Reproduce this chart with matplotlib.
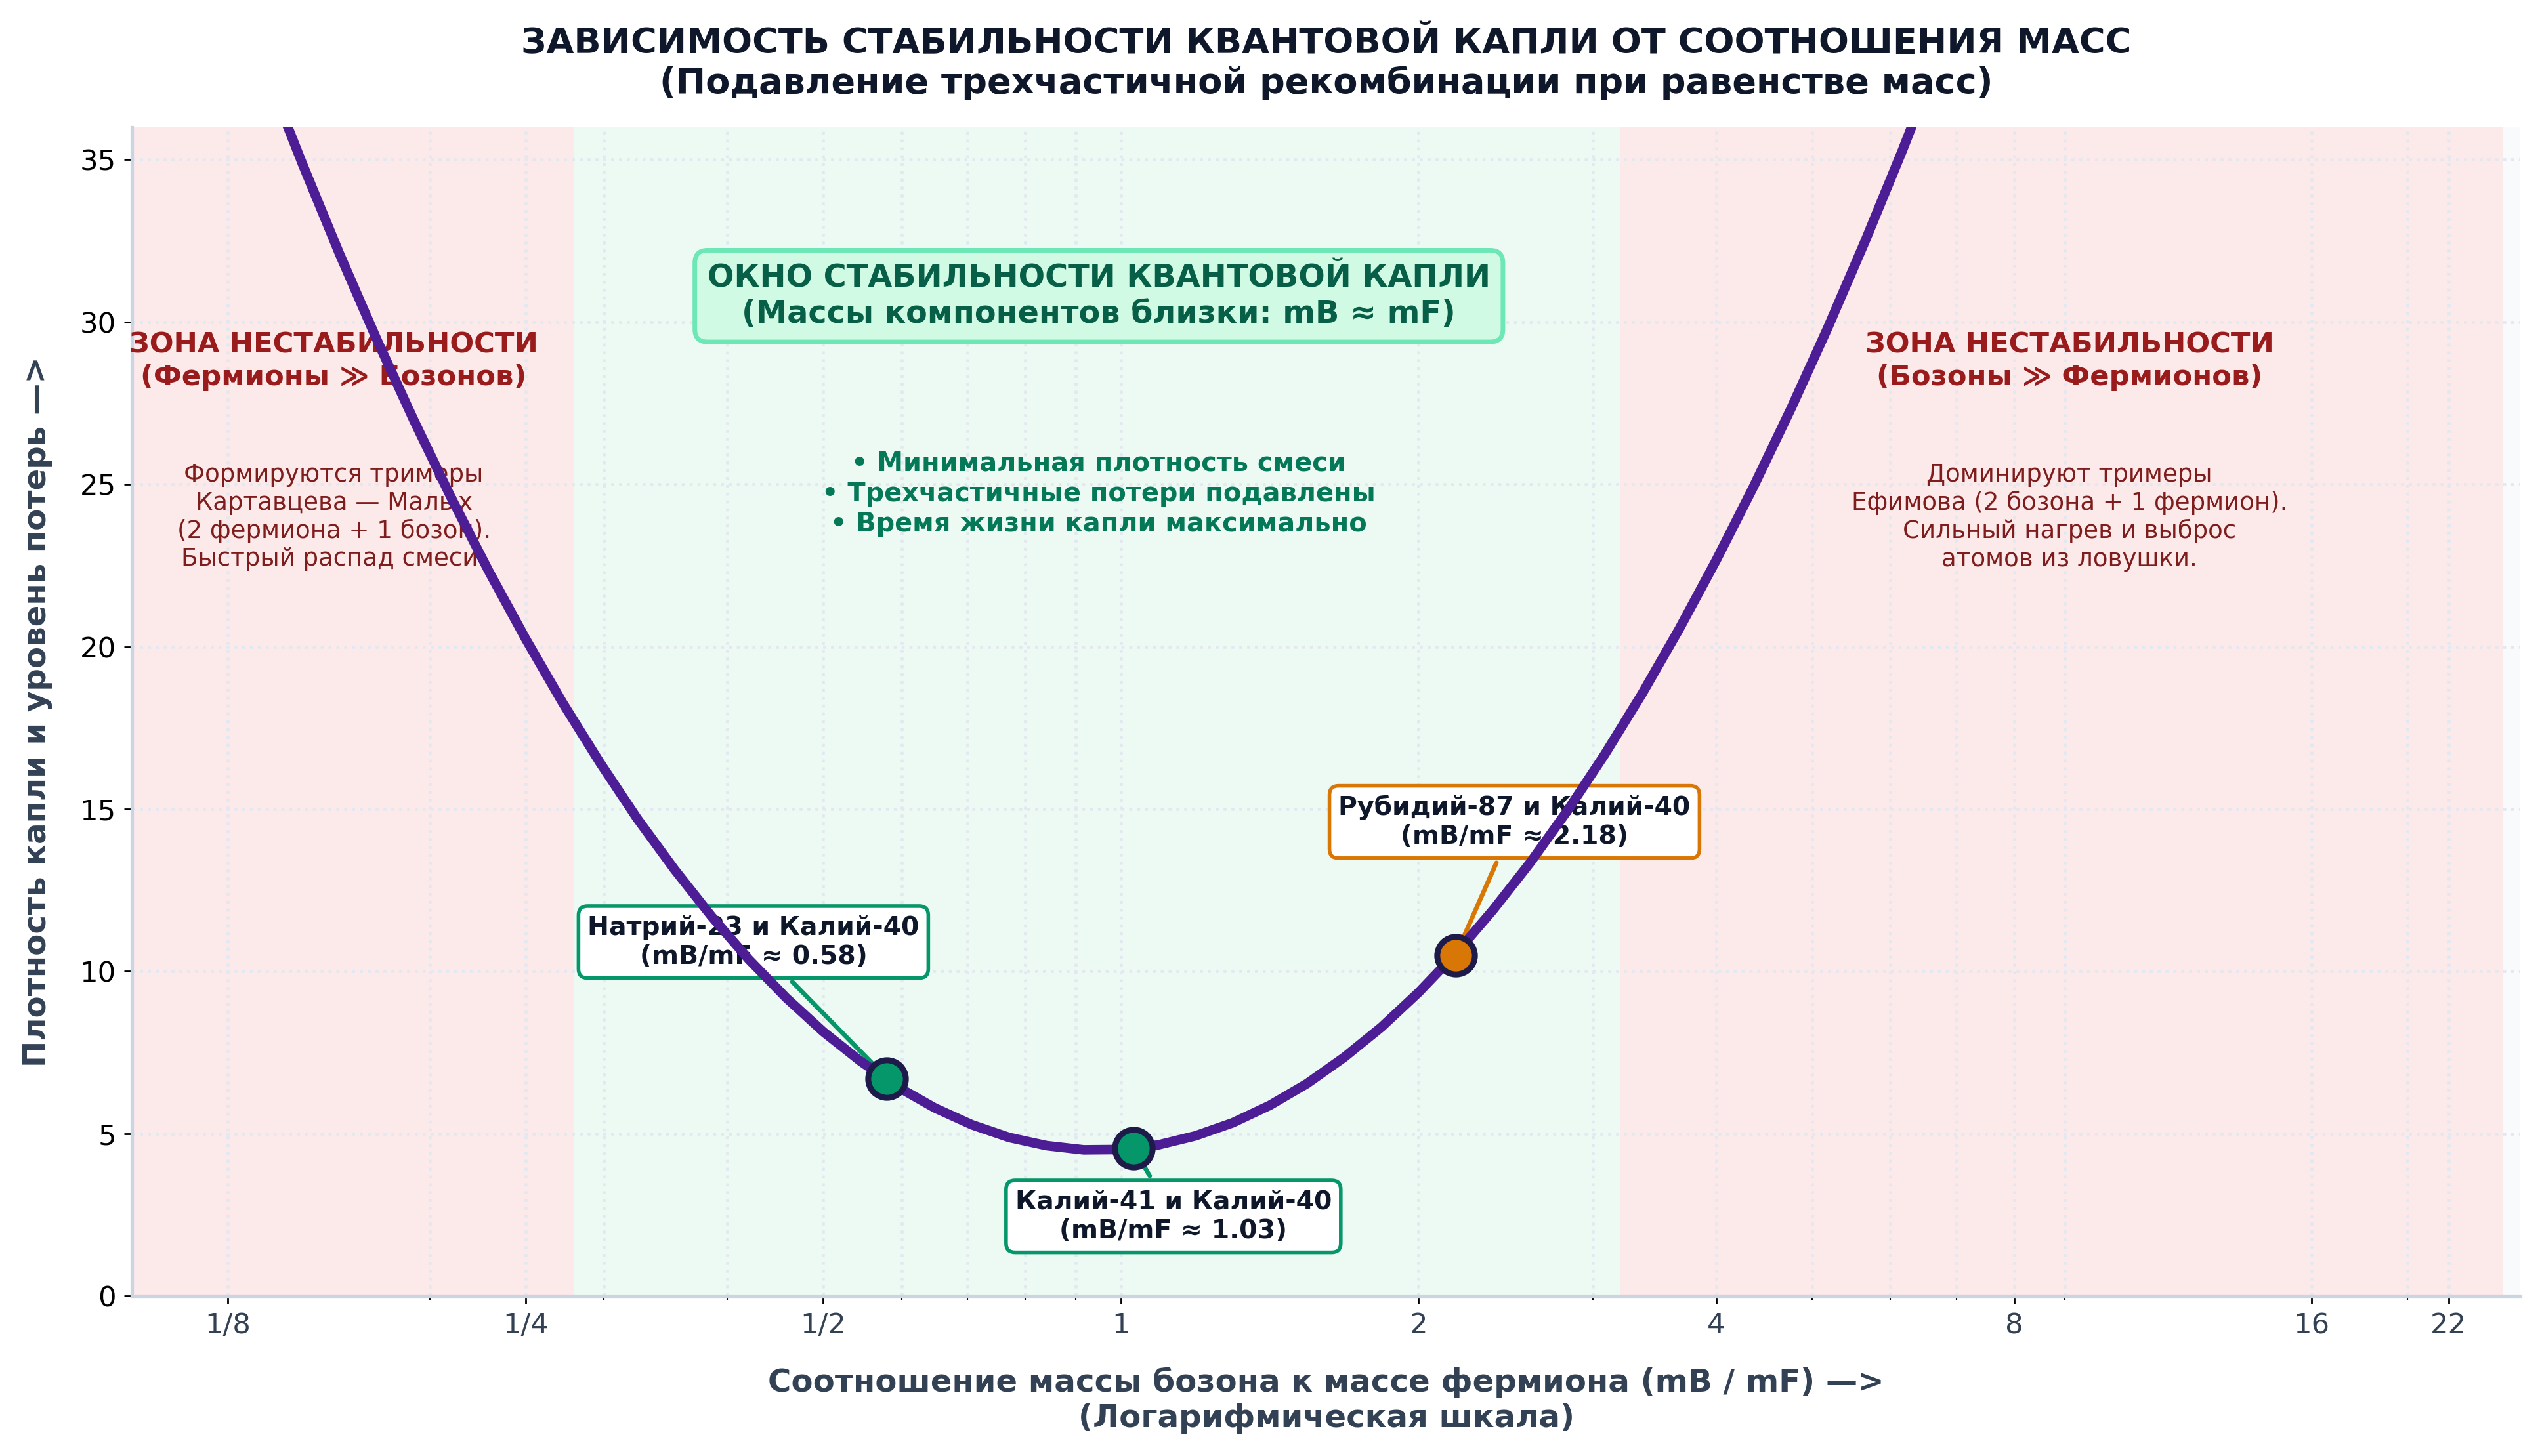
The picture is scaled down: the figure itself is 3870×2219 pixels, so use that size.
import numpy as np
import matplotlib
matplotlib.use("Agg")
import matplotlib.pyplot as plt
from matplotlib.ticker import FixedLocator, FixedFormatter, LogLocator, NullFormatter

# curve (mass ratio mB/mF -> density / losses)
mass_ratio = [0.1250, 0.1363, 0.1487, 0.1621, 0.1768, 0.1928, 0.2102, 0.2293,
              0.2500, 0.2726, 0.2973, 0.3242, 0.3536, 0.3856, 0.4204, 0.4585,
              0.5000, 0.5453, 0.5946, 0.6484, 0.7071, 0.7711, 0.8409, 0.9170,
              1.0000, 1.0905, 1.1892, 1.2968, 1.4142, 1.5422, 1.6818, 1.8340,
              2.0000, 2.1810, 2.3784, 2.5937, 2.8284, 3.0844, 3.3636, 3.6680,
              4.0000, 4.3620, 4.7568, 5.1874, 5.6569, 6.1688, 6.7272]
density = [40.82, 37.79, 34.88, 32.11, 29.47, 26.97, 24.60, 22.35,
           20.25, 18.27, 16.43, 14.71, 13.14, 11.69, 10.37, 9.19,
           8.14, 7.23, 6.44, 5.79, 5.27, 4.88, 4.63, 4.50,
           4.51, 4.65, 4.93, 5.33, 5.87, 6.54, 7.35, 8.28,
           9.35, 10.55, 11.89, 13.35, 14.95, 16.68, 18.54, 20.54,
           22.67, 24.93, 27.32, 29.84, 32.50, 35.29, 38.21]

# experimental mixtures
pair_names = ["Натрий-23 и Калий-40", "Калий-41 и Калий-40", "Рубидий-87 и Калий-40"]
pair_ratio = [0.58, 1.03, 2.18]
pair_density = [6.7, 4.55, 10.5]
pair_colors = ["#059669", "#059669", "#d97706"]

# zones
zone_edges = [0.1, 0.28, 3.2, 25.0]

tick_values = [1/8, 1/4, 1/2, 1, 2, 4, 8, 16, 22]
tick_labels = ["1/8", "1/4", "1/2", "1", "2", "4", "8", "16", "22"]

fig = plt.figure(figsize=(15.48, 8.876), dpi=250)
ax = fig.add_axes([201/3870, 1 - 1975/2219, (3840 - 201)/3870, (1975 - 194)/2219])
ax.set_facecolor("#f8fafc")
ax.set_xscale("log")
ax.set_xlim(0.1, 26)
ax.set_ylim(0, 36)

# background zones
ax.axvspan(zone_edges[0], zone_edges[1], color="#fce9ea", lw=0, zorder=0)
ax.axvspan(zone_edges[1], zone_edges[2], color="#edfaf4", lw=0, zorder=0)
ax.axvspan(zone_edges[2], zone_edges[3], color="#fce9ea", lw=0, zorder=0)

# main curve
ax.plot(mass_ratio, density, color="#4c1d95", lw=4.2, zorder=4,
        solid_capstyle="round", solid_joinstyle="round")

# points + labels
label_pos = [(0.425, 10.9), (1.13, 2.45), (2.50, 14.6)]
for name, xr, yd, col, pos in zip(pair_names, pair_ratio, pair_density, pair_colors, label_pos):
    ax.plot(xr, yd, "o", ms=16.5, mfc=col, mec="#1e1b4b", mew=2.6, zorder=5)
    ax.annotate(f"{name}\n(mB/mF ≈ {xr:.2f})", xy=(xr, yd), xytext=pos,
                ha="center", va="center", fontsize=11.35, fontweight="bold", color="#0f172a",
                bbox=dict(boxstyle="round,pad=0.35", fc="white", ec=col, lw=1.6),
                arrowprops=dict(arrowstyle="-", color=col, lw=2), zorder=3)

# stability window
ax.text(0.95, 30.8, "ОКНО СТАБИЛЬНОСТИ КВАНТОВОЙ КАПЛИ\n(Массы компонентов близки: mB ≈ mF)",
        ha="center", va="center", fontsize=13.75, fontweight="bold", color="#065f46",
        bbox=dict(boxstyle="round,pad=0.4", fc="#d1fae5", ec="#6ee7b7", lw=2), zorder=3)
ax.text(0.95, 24.7, "• Минимальная плотность смеси\n• Трехчастичные потери подавлены\n• Время жизни капли максимально",
        ha="center", va="center", fontsize=11.5, fontweight="bold", color="#047857", zorder=3)

# instability zones
ax.text(0.16, 28.8, "ЗОНА НЕСТАБИЛЬНОСТИ\n(Фермионы ≫ Бозонов)", ha="center", va="center",
        fontsize=12.5, fontweight="bold", color="#991b1b", zorder=3)
ax.text(0.16, 24.0, "Формируются тримеры\nКартавцева — Малых\n(2 фермиона + 1 бозон).\nБыстрый распад смеси.",
        ha="center", va="center", fontsize=10.7, color="#7f1d1d", zorder=3)
ax.text(9.1, 28.8, "ЗОНА НЕСТАБИЛЬНОСТИ\n(Бозоны ≫ Фермионов)", ha="center", va="center",
        fontsize=12.5, fontweight="bold", color="#991b1b", zorder=3)
ax.text(9.1, 24.0, "Доминируют тримеры\nЕфимова (2 бозона + 1 фермион).\nСильный нагрев и выброс\nатомов из ловушки.",
        ha="center", va="center", fontsize=10.7, color="#7f1d1d", zorder=3)

# axes styling
ax.xaxis.set_major_locator(FixedLocator(tick_values))
ax.xaxis.set_major_formatter(FixedFormatter(tick_labels))
ax.xaxis.set_minor_locator(LogLocator(base=10, subs=np.arange(2, 10)))
ax.xaxis.set_minor_formatter(NullFormatter())
ax.tick_params(axis="x", labelsize=12.5, labelcolor="#334155")
ax.tick_params(axis="y", labelsize=12.5, labelcolor="black")

ax.set_axisbelow(True)
ax.grid(True, which="major", axis="y", linestyle=":", color="#e2e8f0", lw=1.3)
ax.grid(True, which="both", axis="x", linestyle=":", color="#e2e8f0", lw=1.3)

for s in ["top", "right"]:
    ax.spines[s].set_visible(False)
for s in ["left", "bottom"]:
    ax.spines[s].set_color("#cbd5e1")
    ax.spines[s].set_linewidth(1.5)

ax.set_xlabel("Соотношение массы бозона к массе фермиона (mB / mF) —>\n(Логарифмическая шкала)",
              fontsize=13.9, fontweight="bold", color="#334155", labelpad=12)
ax.set_ylabel("Плотность капли и уровень потерь —>", fontsize=13.9, fontweight="bold",
              color="#334155", labelpad=12)
ax.set_title("ЗАВИСИМОСТЬ СТАБИЛЬНОСТИ КВАНТОВОЙ КАПЛИ ОТ СООТНОШЕНИЯ МАСС\n"
             "(Подавление трехчастичной рекомбинации при равенстве масс)",
             fontsize=15.6, fontweight="bold", color="#0f172a", pad=15)

fig.savefig("out.png", dpi=250)
